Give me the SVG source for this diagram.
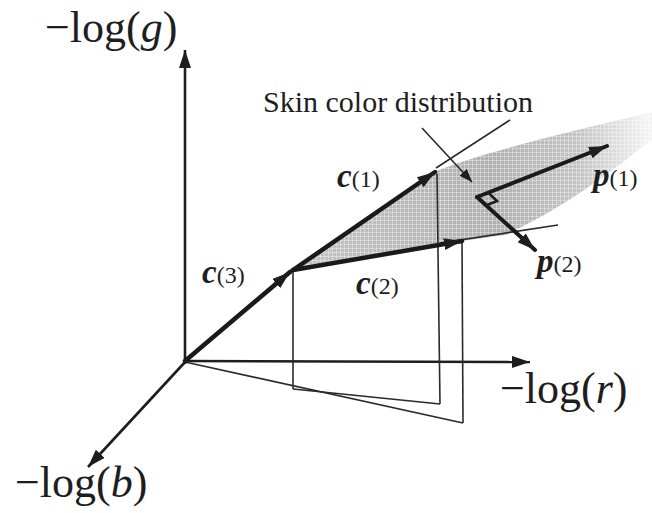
<svg xmlns="http://www.w3.org/2000/svg" width="652" height="513" viewBox="0 0 652 513">
<style>
.ax{stroke:#1e1e1e;stroke-width:2.6;fill:none}
.vec{stroke:#1a1a1a;stroke-width:4.5;fill:none;stroke-linecap:round}
.pv{stroke:#1a1a1a;stroke-width:4;fill:none;stroke-linecap:round}
.thin{stroke:#2a2a2a;stroke-width:1.6;fill:none}
.lbl{font-family:"Liberation Serif","Times New Roman",serif;fill:#1e1e1e}
.big{font-size:44px}
.vl{font-size:33px;font-weight:bold;font-style:italic}
.idx{font-size:24px;font-weight:normal;font-style:normal}
.it{font-style:italic}
</style>
<defs>
<marker id="ah" markerUnits="userSpaceOnUse" markerWidth="20" markerHeight="14" refX="18" refY="6" orient="auto">
<path d="M0,0 L18,6 L0,12 z" fill="#1e1e1e"/>
</marker>
<marker id="ahs" markerUnits="userSpaceOnUse" markerWidth="14" markerHeight="12" refX="13" refY="5" orient="auto">
<path d="M0,0 L13,5 L0,10 z" fill="#1e1e1e"/>
</marker>
<linearGradient id="shade" gradientUnits="userSpaceOnUse" x1="293" y1="200" x2="652" y2="160">
<stop offset="0" stop-color="#c4c4c4"/>
<stop offset="0.55" stop-color="#b0b0b0"/>
<stop offset="0.8" stop-color="#c4c4c4"/>
<stop offset="1" stop-color="#f4f4f4"/>
</linearGradient>
<pattern id="grid" patternUnits="userSpaceOnUse" width="4" height="4">
<path d="M0,0.5 H4 M0.5,0 V4" stroke="#ffffff" stroke-width="0.8" stroke-opacity="0.45"/>
</pattern>
</defs>
<g id="skin-region">
<path d="M293,270 L434,172 C480,153 560,134 652,112 L652,140 C612,170 570,205 505,235 L462,241 Z" fill="url(#shade)"/>
<path d="M293,270 L434,172 C480,153 560,134 652,112 L652,140 C612,170 570,205 505,235 L462,241 Z" fill="url(#grid)"/>
</g>
<g id="connectors">
<g id="axes">
<path class="ax" d="M185,364 L185,50" marker-end="url(#ah)"/>
<path class="ax" d="M184,361 L530,362" marker-end="url(#ah)"/>
<path class="ax" d="M186,361 L88,467" marker-end="url(#ah)"/>
</g>
<g id="projections">
<path class="thin" d="M293,270 L293,389"/>
<path class="thin" d="M437,174 L440,404"/>
<path class="thin" d="M462,241 L463,423"/>
<path class="thin" d="M185,362 L463,423"/>
<path class="thin" d="M293,389 L440,404"/>
<path class="thin" d="M440,243 L558,225"/>
</g>
<g id="vectors">
<path class="vec" d="M185,361 L290,272" marker-end="url(#ah)"/>
<path class="vec" d="M293,270 L435,172" marker-end="url(#ah)"/>
<path class="vec" d="M293,270 L462,241" marker-end="url(#ah)"/>
<path class="pv" d="M477,197 L607,146" marker-end="url(#ah)"/>
<path class="pv" d="M477,197 L535,250" marker-end="url(#ah)"/>
<path class="ax" d="M488,192.5 L497,201 L486,205.5"/>
</g>
<g id="leaders">
<path class="thin" d="M510,120 L436,168"/>
<path class="thin" d="M422,128 L472,182" marker-end="url(#ahs)"/>
</g>
</g>
<g id="labels">
<text class="lbl big" x="45" y="42">−log(<tspan class="it">g</tspan>)</text>
<text class="lbl big" x="500" y="403">−log(<tspan class="it">r</tspan>)</text>
<text class="lbl big" x="15" y="497">−log(<tspan class="it">b</tspan>)</text>
<text class="lbl" x="263" y="112" font-size="30">Skin color distribution</text>
<text class="lbl vl" x="337" y="187">c<tspan class="idx">(1)</tspan></text>
<text class="lbl vl" x="356" y="294">c<tspan class="idx">(2)</tspan></text>
<text class="lbl vl" x="202" y="283">c<tspan class="idx">(3)</tspan></text>
<text class="lbl vl" x="593" y="186">p<tspan class="idx">(1)</tspan></text>
<text class="lbl vl" x="537" y="272">p<tspan class="idx">(2)</tspan></text>
</g>
</svg>
